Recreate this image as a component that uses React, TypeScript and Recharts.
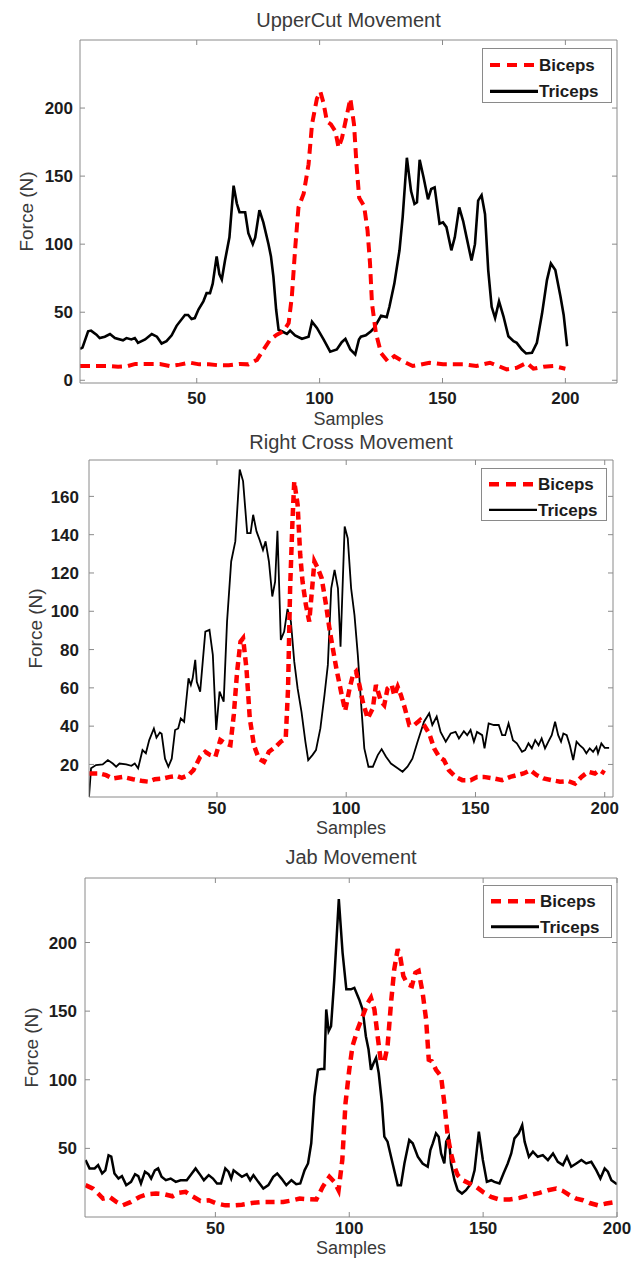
import React from 'react';
import { LineChart, Line, XAxis, YAxis, Legend, Label } from 'recharts';

type Pt = [number, number];

const FONT = '"Liberation Sans", Arial, Helvetica, sans-serif';
const FRAME = '#8a8a8a';
const TICK_COLOR = '#1c1c1c';
const LABEL_COLOR = '#3a3a3a';
const RED = '#ff0000';

const seriesNames = ['Biceps', 'Triceps'];
const xTicks = [50, 100, 150, 200];
const upperYTicks = [0, 50, 100, 150, 200];
const crossYTicks = [20, 40, 60, 80, 100, 120, 140, 160];
const jabYTicks = [50, 100, 150, 200];

// ---------- UpperCut Movement ----------
const upperBiceps: Pt[] = [
  [2.5, 10.5], [6, 10.5], [10, 10.5], [14, 10.5], [18, 10], [22, 10.5], [25, 12], [30, 12], [35, 12], [39, 10.5],
  [43, 11.5], [47, 13], [51, 11.7], [55, 11.7], [59, 11], [63, 11], [67.7, 12], [71, 11.7], [74.5, 15], [77.2, 22.6],
  [79.9, 30], [82.6, 33.5], [85.3, 36], [87.4, 42], [88.7, 61.5], [90.1, 98], [91.4, 127], [93.5, 137], [95.5, 158.7],
  [96.9, 188], [98.9, 207], [100.3, 212], [101.6, 203.6], [103, 190], [104.6, 188], [106.4, 183], [107.7, 171],
  [109.1, 178], [111.1, 195], [112.5, 207], [114, 188], [115, 158.7], [116.1, 134], [118.1, 128], [119.5, 110],
  [120.5, 86], [121.3, 56.6], [122.9, 34.7], [125, 20], [127.7, 14], [130.4, 17.7], [133.8, 14], [137.9, 10.5],
  [141, 11.5], [144.7, 12.9], [150.2, 11.7], [154.3, 11.7], [158.4, 11.7], [163.8, 10.5], [169.3, 12.9], [172.7, 10.5],
  [176.1, 8], [180.2, 9.2], [184.3, 12.9], [187, 8.5], [191.1, 10], [195.2, 10.5], [200, 8.5],
];
const upperTriceps: Pt[] = [
  [2.5, 23], [3.5, 24], [5.8, 36], [7, 36.5], [9.2, 33.5], [10.5, 31], [12.6, 32], [14.7, 34], [16.7, 31], [20, 29.4],
  [21.4, 31], [23.4, 30], [24.8, 31], [26.1, 27.5], [29, 30], [31.7, 34], [33.8, 32], [35.7, 27], [37.7, 28.7],
  [39.8, 33], [41.8, 40], [45.2, 48], [46.5, 48], [47.9, 45], [49.2, 45.7], [50.7, 52], [52.7, 58], [54, 64], [55.4, 64],
  [56.5, 71], [58.1, 91], [59.2, 78], [60.2, 74], [61.5, 88], [63.3, 105], [65, 143], [66.3, 130], [67.4, 123.5],
  [69.7, 123.5], [71, 108], [72.8, 100], [73.8, 105], [75.5, 125], [77.1, 116], [79.2, 100], [80.2, 91], [81.2, 76],
  [82.3, 52], [83.3, 37], [84.6, 36], [86.7, 34], [88, 36.5], [90, 33], [92.8, 30.5], [95.5, 32], [96.9, 43],
  [98.9, 38.5], [101.6, 30], [104.3, 21], [107, 22.6], [109, 28], [110.5, 30.4], [112.5, 22.6], [114.5, 19], [116, 30],
  [116.8, 32], [118.8, 33], [120.9, 36], [122.2, 38.4], [125, 47.4], [127.3, 46.4], [128.4, 54], [130.4, 71],
  [132.5, 95.5], [133.8, 120], [135.5, 163.5], [137.2, 139], [138.6, 129.5], [139.6, 130.7], [140.7, 162], [142.3, 149],
  [144.1, 133], [145.4, 140.5], [146.8, 141.7], [148.8, 115], [150.2, 116], [151.6, 112.5], [153.6, 95.5], [155, 105],
  [156.8, 127], [158.4, 117], [159.8, 105], [161.8, 88], [163.2, 100], [164.5, 132], [165.9, 136], [167.3, 122],
  [168.6, 81], [170, 54], [171.4, 45.7], [173, 58], [174.8, 47], [176.8, 32.3], [178.9, 28.7], [180.2, 27.5],
  [182.3, 22.6], [184, 19.7], [186.4, 20.2], [188.4, 27.5], [190.5, 49], [192.5, 73.6], [194.1, 85.8], [195.9, 81],
  [198, 61.5], [199.3, 48], [200.7, 25],
];

// ---------- Right Cross Movement ----------
const crossBiceps: Pt[] = [
  [0.6, 15.3], [4.5, 15.3], [7.1, 14.4], [9.7, 12.7], [13.6, 13.5], [17.5, 12.3], [21.4, 11.3], [23.4, 11], [26, 12.3],
  [29.2, 12.7], [31.8, 13.5], [34.4, 14], [36.4, 13], [39, 14.4], [40.9, 17], [43.5, 24], [45.5, 26.6], [47.4, 24.9],
  [49.4, 24], [51.3, 32.7], [53.2, 31], [55.2, 30.1], [56.5, 45.8], [57.8, 68.5], [59.1, 84.2], [60.1, 85.9],
  [61.4, 70.2], [62.7, 44], [64.3, 30], [66.2, 23], [68.2, 21.4], [70.1, 26.6], [72.7, 29.2], [74.7, 31.9],
  [76.6, 33.6], [77.5, 59.7], [78.3, 112], [79.2, 147], [79.9, 167.8], [81.2, 155.6], [82.2, 129.5], [83.1, 115.5],
  [84.4, 103.3], [85.7, 94.6], [86.6, 108.6], [87.7, 126], [89, 122.5], [90.5, 117.3], [92.2, 103.3], [93.5, 91],
  [94.8, 80.7], [96.2, 70], [98, 58], [99.6, 48], [101.3, 59.7], [102.6, 66.7], [103.8, 68.5], [105.1, 61.5],
  [106.4, 52.8], [108.3, 44], [110.3, 49.3], [111.5, 61.5], [113.5, 52.8], [114.7, 51], [116, 59.7], [117.6, 61.5],
  [118.6, 56], [119.9, 60.6], [121.2, 56], [122.7, 49.3], [124.4, 40.6], [126.3, 40.6], [128.6, 43.2], [130.1, 40.6],
  [132.1, 36.2], [134, 28.4], [135.9, 24], [137.8, 22.3], [139.7, 17], [142.3, 13.5], [144.9, 11.8], [148.1, 11.8],
  [150.6, 13.5], [153.2, 13.5], [157.1, 12.7], [160.3, 11.8], [163.5, 13.5], [166, 14.4], [168.6, 15.3], [171.2, 17],
  [173.7, 14.4], [176.3, 12.7], [179.5, 11.8], [182.7, 11], [185.9, 11.3], [188.5, 10], [191, 13.5], [193.6, 16.2],
  [196.2, 15.3], [198, 17], [200, 15.3],
];
const crossTriceps: Pt[] = [
  [0.5, 3], [1.3, 18], [3.2, 19.7], [5.8, 20], [7.8, 22.3], [9.7, 20.5], [11, 18.8], [12.3, 20.5], [14.9, 20],
  [16.9, 19.3], [18.2, 20.5], [19.5, 18], [21.2, 27.5], [22.5, 25.8], [23.8, 32.7], [25.6, 38.8], [26.6, 34],
  [27.9, 36.7], [28.6, 36], [29.9, 23], [31.2, 18.8], [32.5, 23], [33.8, 38], [35, 38.8], [36, 44], [37.3, 42.3],
  [39, 65], [39.9, 61.5], [40.6, 65], [41.6, 74.6], [42.2, 63.2], [43.5, 58], [44.5, 73.7], [45.5, 89.4], [47.1, 90.3],
  [48.4, 77.2], [49.7, 38], [51, 58], [52.6, 52.8], [53.9, 94.6], [55.5, 126], [57.1, 136.5], [58.8, 174], [60.1, 168],
  [61.7, 140.8], [63, 140.8], [64, 150.4], [65.3, 141.7], [66.5, 137.3], [67.8, 132], [68.8, 136.5], [70.1, 126],
  [71.4, 107.7], [72.5, 115.5], [73.4, 142], [74.7, 85], [76, 89.4], [77.3, 101.2], [78.6, 94.6], [79.9, 73.7],
  [81.2, 59.7], [82.7, 47.5], [84.2, 31.9], [85.3, 22.3], [87, 25], [88.3, 27.5], [90, 38.8], [91.6, 56.3], [92.9, 72],
  [94.2, 112], [95.5, 121.6], [96.8, 112], [97.8, 81.5], [99.4, 144.3], [100.6, 138], [101.9, 112], [103.2, 98],
  [104.5, 77], [105.8, 51], [107, 28.4], [108.6, 18.8], [110.3, 18.8], [112.2, 24.9], [113.7, 28], [115.4, 24],
  [117.3, 20.5], [119.9, 18], [121.8, 16.2], [123.7, 18.8], [125.6, 23], [127.6, 31.9], [130.1, 42.3], [132.1, 46.7],
  [133.3, 40.6], [135, 45], [136.5, 37], [138.5, 31.9], [140.4, 36.2], [142.3, 37], [143.6, 33.6], [145.5, 37.4],
  [146.8, 35.3], [148.1, 38], [149.4, 31.9], [150.6, 37], [152.6, 35.3], [153.5, 28.4], [155.1, 41.4], [157.1, 40.6],
  [159, 40.6], [160.3, 35.3], [161.5, 35.3], [162.8, 41.4], [164.5, 32.7], [166, 31], [168, 26.6], [169.2, 27.5],
  [170.5, 31], [171.8, 28.4], [173.1, 32.7], [174.4, 30], [175.6, 33.6], [176.9, 28.4], [178.2, 31.9], [179.5, 35.3],
  [180.8, 42.3], [182, 35.3], [183.1, 31.9], [184, 36.2], [185.3, 35.3], [186.5, 30], [187.8, 22.3], [189.1, 31.9],
  [190.4, 30], [191.7, 28.4], [192.9, 25.8], [194.2, 28.4], [195.5, 26.6], [196.8, 29.2], [197.4, 25.8], [198.7, 31],
  [200, 28.7], [201.7, 28.7],
];

// ---------- Jab Movement ----------
const jabBiceps: Pt[] = [
  [1.5, 23.2], [4.3, 20.7], [6.2, 17.1], [8, 13.4], [10.5, 14.6], [13, 11], [15.4, 8.5], [18.5, 11], [21.6, 14.6],
  [24.7, 16.6], [27.8, 17.1], [30.9, 16.6], [34, 15.1], [36.4, 17.6], [38.9, 18.3], [41.4, 15.1], [44.4, 11.7],
  [47.5, 12.2], [50.6, 9.8], [53.7, 8.5], [56.8, 8.5], [59.9, 9], [63.6, 10.2], [67.3, 11], [71.6, 11], [75.3, 11],
  [79, 12.2], [81.5, 13.4], [84.6, 12.9], [87.7, 12.7], [90.1, 22], [92.6, 29.3], [94.4, 25.6], [96, 19.5],
  [97.4, 41.5], [98.6, 83], [100, 107.3], [101.2, 124.4], [103.1, 136.6], [105, 146.3], [106.9, 156], [108.1, 159.8],
  [109.4, 151.2], [110.6, 131.7], [111.8, 113.4], [113.1, 113.4], [114.3, 124.4], [115.6, 156], [116.8, 180.5],
  [118.1, 195.1], [119.1, 189], [120.2, 175.6], [121.8, 169.5], [123.4, 168.3], [124.7, 178], [125.9, 179.3],
  [127.4, 163.4], [128.7, 143.9], [129.7, 114.6], [130.9, 113.4], [132.4, 107.3], [134.3, 102.4], [135.5, 83],
  [136.8, 58.5], [138, 46.3], [139.3, 36.6], [140.5, 30.5], [142.4, 26.8], [144.9, 24.4], [147.4, 22], [149.9, 18.3],
  [153, 14.6], [156.1, 12.7], [159.9, 12.7], [163.6, 13.9], [167.3, 15.9], [171.1, 17.6], [174.2, 19.5], [177.3, 20.7],
  [179.8, 19], [182.3, 15.9], [184.8, 13.4], [187.3, 12.2], [189.8, 10.2], [192.9, 8.5], [196, 9.8], [199.8, 11],
];
const jabTriceps: Pt[] = [
  [1.5, 41.5], [3, 35.4], [4.9, 35.4], [6.2, 37.8], [7.7, 31.7], [8.9, 34], [10.1, 45], [11.1, 44], [12.3, 31.7],
  [13.8, 28], [15.1, 29.8], [16.7, 23.2], [18.5, 25.6], [20, 31.2], [21.2, 29.8], [22.2, 24.4], [23.7, 33], [25, 31.2],
  [26, 28], [27.4, 34], [28.6, 35.4], [29.9, 29.3], [31.5, 26.8], [33.3, 28], [35.2, 25.6], [37, 26.8], [39.3, 26.8],
  [40.7, 30.5], [42.6, 35.4], [44.4, 30.5], [45.7, 26.8], [47.5, 30.5], [49.1, 28], [50.6, 24.4], [52.1, 24.4],
  [53.7, 35.4], [54.9, 33], [55.9, 28], [56.8, 34], [58.3, 31.7], [59.9, 29.3], [61.7, 31.2], [63, 26.8], [64.2, 30.5],
  [66, 25.6], [67.9, 20.7], [69.8, 23.2], [71.6, 29.3], [73.1, 31.7], [74.7, 28], [76.5, 23.2], [78.4, 26.8],
  [80.2, 23.9], [81.7, 24.4], [83.3, 34], [84.6, 39], [85.8, 53.7], [87, 87.8], [88.3, 107.3], [89.5, 107.8],
  [90.7, 107.8], [91.4, 151.2], [92.3, 135.4], [93.2, 139], [94.4, 173], [96.1, 231.7], [97.5, 192.7], [98.9, 166],
  [100.6, 165.9], [101.9, 167], [103.7, 158.5], [105, 151.2], [106.2, 131.7], [107.2, 122], [108.1, 107.3],
  [109.1, 112.2], [110, 115.9], [111, 104.9], [112.2, 82.9], [113.1, 58.5], [114.3, 54.9], [116.2, 39], [118.1, 23.2],
  [119.3, 23.2], [120.6, 39], [122.4, 56.1], [123.7, 53.7], [125.6, 43.9], [127.4, 39], [129.3, 36.6], [130.3, 48.8],
  [131.2, 53.7], [132.4, 61], [133.4, 58.5], [134.3, 46.3], [135.5, 39], [136.2, 54.9], [137.2, 58.5], [138, 39],
  [139.3, 26.8], [140.5, 19.5], [142.1, 17.1], [143.6, 19.5], [145.5, 24.4], [146.8, 34], [148.4, 62.2], [149.9, 41.5],
  [151.4, 25.6], [153, 26.8], [154.2, 25.6], [156.1, 24.4], [157.6, 31.7], [159.2, 39], [160.5, 46.3], [161.7, 57.3],
  [163.3, 61], [164.6, 67], [165.5, 54.9], [167.1, 43.9], [168.6, 47.6], [170.4, 43.9], [172.3, 45.1], [174.2, 41.5],
  [176.1, 46.3], [177.9, 40.2], [179.8, 37.8], [181.3, 43.9], [182.9, 36.6], [184.8, 39], [186.7, 41.5], [188.5, 39],
  [190.4, 40.2], [192.3, 34], [193.8, 28], [195.4, 35.4], [196.6, 33], [197.9, 26.8], [200, 23.9],
];

const toRows = (pts: Pt[]) => pts.map(([x, y]) => ({ x, y }));

interface PanelCfg {
  title: string;
  top: number;
  height: number;
  plotLeft: number;
  plotRight: number;
  plotTop: number;
  plotBottom: number;
  xDomain: [number, number];
  yDomain: [number, number];
  yTicks: number[];
  biceps: Pt[];
  triceps: Pt[];
  bicepsWidth: number;
  bicepsDash: string;
  tricepsWidth: number;
  titleDy: number;
  xLabelDy: number;
  xTickDy: number;
  yTickGap: number;
  legend: { left: number; top: number; width: number; height: number };
}

const panels: PanelCfg[] = [
  {
    title: 'UpperCut Movement', top: 0, height: 432,
    plotLeft: 80, plotRight: 617, plotTop: 40, plotBottom: 383,
    xDomain: [2.5, 221], yDomain: [-2, 250], yTicks: upperYTicks,
    biceps: upperBiceps, triceps: upperTriceps,
    bicepsWidth: 4, bicepsDash: '10 6', tricepsWidth: 2.6,
    titleDy: 13, xLabelDy: 42, xTickDy: 21, yTickGap: 7,
    legend: { left: 482, top: 48, width: 130, height: 55 },
  },
  {
    title: 'Right Cross Movement', top: 420, height: 420,
    plotLeft: 89, plotRight: 613, plotTop: 40, plotBottom: 377,
    xDomain: [0.5, 203.2], yDomain: [3, 179], yTicks: crossYTicks,
    biceps: crossBiceps, triceps: crossTriceps,
    bicepsWidth: 4.5, bicepsDash: '8 5', tricepsWidth: 1.8,
    titleDy: 11, xLabelDy: 37, xTickDy: 17, yTickGap: 10,
    legend: { left: 481, top: 48, width: 126, height: 53 },
  },
  {
    title: 'Jab Movement', top: 840, height: 421,
    plotLeft: 85, plotRight: 617, plotTop: 38, plotBottom: 377,
    xDomain: [1.3, 200], yDomain: [0, 247], yTicks: jabYTicks,
    biceps: jabBiceps, triceps: jabTriceps,
    bicepsWidth: 4.5, bicepsDash: '9 6', tricepsWidth: 2.5,
    titleDy: 14, xLabelDy: 37, xTickDy: 17, yTickGap: 8,
    legend: { left: 483, top: 45, width: 129, height: 53 },
  },
];

const Y_AXIS_W = 50;
const X_AXIS_H = 30;

function makeBottomTick(dy: number) {
  return (props: any) => {
    const { x, y, payload } = props;
    return (
      <g>
        <line x1={x} y1={y} x2={x} y2={y - 5} stroke={FRAME} strokeWidth={1} />
        <text x={x} y={y + dy} textAnchor="middle" fontFamily={FONT} fontSize={17} fontWeight="bold" fill={TICK_COLOR}>
          {payload.value}
        </text>
      </g>
    );
  };
}
function makeLeftTick(gap: number) {
  return (props: any) => {
    const { x, y, payload } = props;
    return (
      <g>
        <line x1={x} y1={y} x2={x + 5} y2={y} stroke={FRAME} strokeWidth={1} />
        <text x={x - gap} y={y} dy="0.36em" textAnchor="end" fontFamily={FONT} fontSize={17} fontWeight="bold" fill={TICK_COLOR}>
          {payload.value}
        </text>
      </g>
    );
  };
}
const TopTick = (props: any) => {
  const { x, y } = props;
  return <line x1={x} y1={y} x2={x} y2={y + 5} stroke={FRAME} strokeWidth={1} />;
};
const RightTick = (props: any) => {
  const { x, y } = props;
  return <line x1={x} y1={y} x2={x - 5} y2={y} stroke={FRAME} strokeWidth={1} />;
};

function LegendBox({ cfg }: { cfg: PanelCfg }) {
  const { width, height } = cfg.legend;
  const r1 = height * 0.29;
  const r2 = height * 0.77;
  return (
    <div style={{ width, height, boxSizing: 'border-box', border: `1px solid ${FRAME}`, background: '#fff' }}>
      <svg width={width - 2} height={height - 2} style={{ display: 'block' }}>
        <line x1={7} y1={r1} x2={55} y2={r1} stroke={RED} strokeWidth={cfg.bicepsWidth} strokeDasharray="10 7" />
        <text x={56} y={r1} dy="0.36em" fontFamily={FONT} fontSize={17} fontWeight="bold" fill={TICK_COLOR}>{seriesNames[0]}</text>
        <line x1={7} y1={r2} x2={55} y2={r2} stroke="#000" strokeWidth={cfg.tricepsWidth + 0.5} />
        <text x={56} y={r2} dy="0.36em" fontFamily={FONT} fontSize={17} fontWeight="bold" fill={TICK_COLOR}>{seriesNames[1]}</text>
      </svg>
    </div>
  );
}

function Panel({ cfg }: { cfg: PanelCfg }) {
  // top x-axis and right y-axis are 1px thick (a zero-size axis is not drawn)
  const margin = {
    top: cfg.plotTop - 1,
    left: cfg.plotLeft - Y_AXIS_W,
    right: 640 - cfg.plotRight - 1,
    bottom: cfg.height - cfg.plotBottom - X_AXIS_H,
  };
  const titleContent = (props: any) => {
    const vb = props.viewBox || {};
    return (
      <text x={vb.x + vb.width / 2} y={vb.y + vb.height - cfg.titleDy} textAnchor="middle" fontFamily={FONT} fontSize={20} fill={LABEL_COLOR}>
        {cfg.title}
      </text>
    );
  };
  const xLabelContent = (props: any) => {
    const vb = props.viewBox || {};
    return (
      <text x={vb.x + vb.width / 2} y={vb.y + cfg.xLabelDy} textAnchor="middle" fontFamily={FONT} fontSize={18} fill={LABEL_COLOR}>
        Samples
      </text>
    );
  };
  const yLabelContent = (props: any) => {
    const vb = props.viewBox || {};
    const cx = vb.x + vb.width - 54;
    const cy = vb.y + vb.height / 2;
    return (
      <text x={cx} y={cy} dy="0.36em" textAnchor="middle" transform={`rotate(-90, ${cx}, ${cy})`} fontFamily={FONT} fontSize={19} fill={LABEL_COLOR}>
        Force (N)
      </text>
    );
  };
  return (
    <div style={{ position: 'absolute', left: 0, top: cfg.top }}>
      <LineChart width={640} height={cfg.height} margin={margin}>
        <XAxis
          xAxisId="b" type="number" dataKey="x" orientation="bottom" height={X_AXIS_H}
          domain={cfg.xDomain} allowDataOverflow ticks={xTicks} interval={0}
          tickSize={0} tickMargin={0} tick={makeBottomTick(cfg.xTickDy)}
          axisLine={{ stroke: FRAME, strokeWidth: 1 }} tickLine={false}
        >
          <Label content={xLabelContent} />
        </XAxis>
        <XAxis
          xAxisId="t" type="number" dataKey="x" orientation="top" height={1}
          domain={cfg.xDomain} allowDataOverflow ticks={xTicks} interval={0}
          tickSize={0} tickMargin={0} tick={TopTick}
          axisLine={{ stroke: FRAME, strokeWidth: 1 }} tickLine={false}
        >
          <Label content={titleContent} />
        </XAxis>
        <YAxis
          yAxisId="l" type="number" orientation="left" width={Y_AXIS_W}
          domain={cfg.yDomain} allowDataOverflow ticks={cfg.yTicks} interval={0}
          tickSize={0} tickMargin={0} tick={makeLeftTick(cfg.yTickGap)}
          axisLine={{ stroke: FRAME, strokeWidth: 1 }} tickLine={false}
        >
          <Label content={yLabelContent} />
        </YAxis>
        <YAxis
          yAxisId="r" type="number" orientation="right" width={1}
          domain={cfg.yDomain} allowDataOverflow ticks={cfg.yTicks} interval={0}
          tickSize={0} tickMargin={0} tick={RightTick}
          axisLine={{ stroke: FRAME, strokeWidth: 1 }} tickLine={false}
        />
        <Line
          xAxisId="b" yAxisId="l" data={toRows(cfg.triceps)} dataKey="y" name={seriesNames[1]} type="linear"
          stroke="#000" strokeWidth={cfg.tricepsWidth} dot={false} activeDot={false} isAnimationActive={false}
        />
        <Line
          xAxisId="t" yAxisId="r" data={toRows(cfg.biceps)} dataKey="y" name={seriesNames[0]} type="linear"
          stroke={RED} strokeWidth={cfg.bicepsWidth} strokeDasharray={cfg.bicepsDash} dot={false} activeDot={false}
          isAnimationActive={false}
        />
        <Legend
          layout="vertical" align="center" verticalAlign="middle"
          wrapperStyle={{ left: cfg.legend.left, top: cfg.legend.top, width: cfg.legend.width, height: cfg.legend.height }}
          content={() => <LegendBox cfg={cfg} />}
        />
      </LineChart>
    </div>
  );
}

export default function App() {
  return (
    <div style={{ position: 'absolute', left: 0, top: 0, width: 640, height: 1261, background: '#fff', overflow: 'hidden' }}>
      {panels.map((p) => (
        <Panel key={p.title} cfg={p} />
      ))}
    </div>
  );
}
